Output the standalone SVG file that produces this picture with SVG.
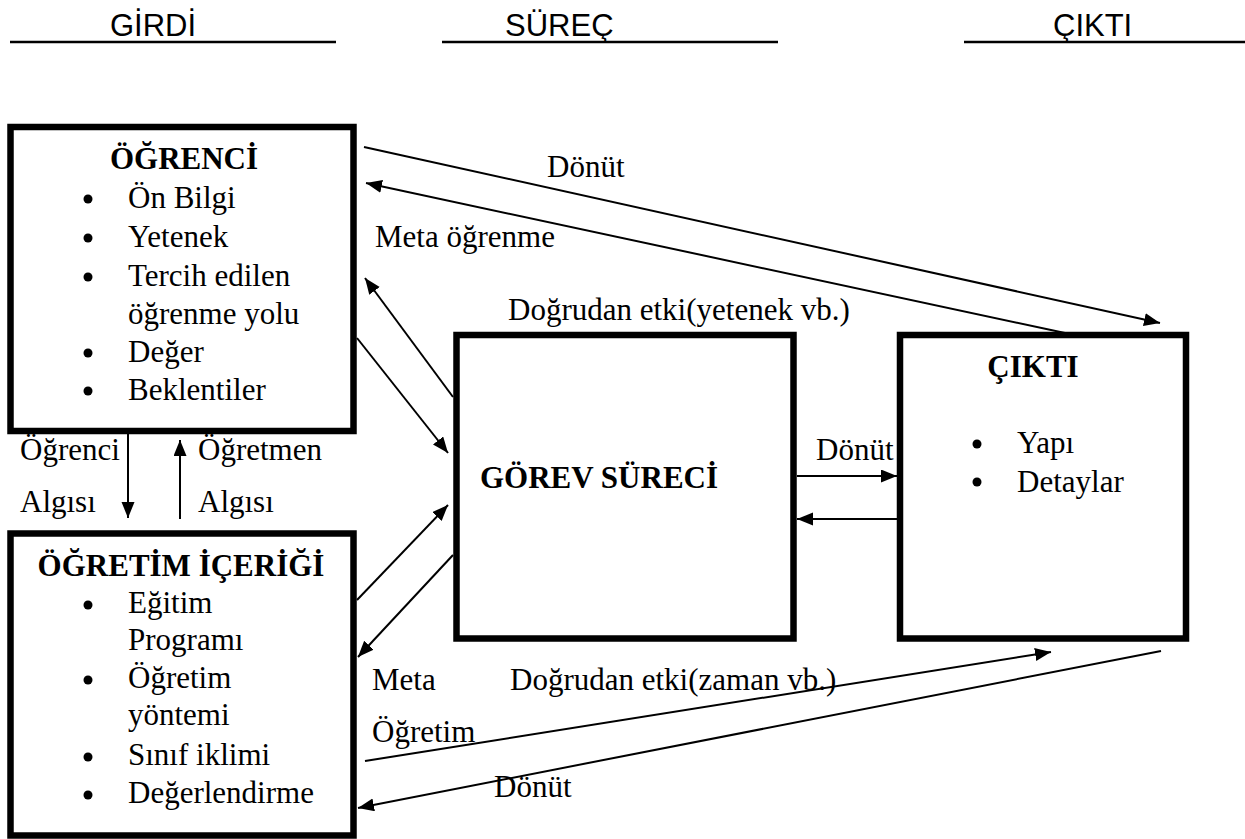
<svg xmlns="http://www.w3.org/2000/svg" width="1245" height="839" viewBox="0 0 1245 839">
<style>
.hdr{font-family:"Liberation Sans",Arial,sans-serif;font-size:31px;fill:#000}
.t{font-family:"Liberation Serif","Times New Roman",serif;font-size:31px;fill:#000}
.b{font-family:"Liberation Serif","Times New Roman",serif;font-size:31px;font-weight:bold;fill:#000}
.box{fill:#fff;stroke:#000;stroke-width:6.5}
.ln{stroke:#000;stroke-width:2;fill:none}
.ar{stroke:#000;stroke-width:2;fill:none;marker-end:url(#ah)}
.ul{stroke:#000;stroke-width:2.5}
</style>
<defs>
<marker id="ah" markerUnits="userSpaceOnUse" markerWidth="18" markerHeight="14" refX="16" refY="6.5" orient="auto">
<path d="M0,0 L16,6.5 L0,13 z" fill="#000"/>
</marker>
</defs>
<rect width="1245" height="839" fill="#fff"/>
<g id="headers">
<text class="hdr" x="110" y="36">GİRDİ</text>
<line class="ul" x1="10" y1="42" x2="336" y2="42"/>
<text class="hdr" x="505" y="36">SÜREÇ</text>
<line class="ul" x1="442" y1="42" x2="778" y2="42"/>
<text class="hdr" x="1053" y="36">ÇIKTI</text>
<line class="ul" x1="964" y1="42" x2="1245" y2="42"/>
</g>
<g id="ogrenci">
<rect class="box" x="10.5" y="127" width="343" height="304"/>
<text class="b" x="184" y="169" text-anchor="middle">ÖĞRENCİ</text>
<circle cx="88" cy="199" r="4.5"/><text class="t" x="128" y="208">Ön Bilgi</text>
<circle cx="88" cy="238" r="4.5"/><text class="t" x="128" y="247">Yetenek</text>
<circle cx="88" cy="277" r="4.5"/><text class="t" x="128" y="286">Tercih edilen</text>
<text class="t" x="128" y="324">öğrenme yolu</text>
<circle cx="88" cy="353" r="4.5"/><text class="t" x="128" y="362">Değer</text>
<circle cx="88" cy="391" r="4.5"/><text class="t" x="128" y="400">Beklentiler</text>
</g>
<g id="ogretim">
<rect class="box" x="10.5" y="533.5" width="343" height="302"/>
<text class="b" x="181" y="576" text-anchor="middle">ÖĞRETİM İÇERİĞİ</text>
<circle cx="88" cy="605" r="4.5"/><text class="t" x="128" y="613">Eğitim</text>
<text class="t" x="128" y="650">Programı</text>
<circle cx="88" cy="680" r="4.5"/><text class="t" x="128" y="688">Öğretim</text>
<text class="t" x="128" y="725">yöntemi</text>
<circle cx="88" cy="757" r="4.5"/><text class="t" x="128" y="765">Sınıf iklimi</text>
<circle cx="88" cy="795" r="4.5"/><text class="t" x="128" y="803">Değerlendirme</text>
</g>
<g id="gorev">
<rect class="box" x="456.5" y="335" width="337" height="303.5"/>
<text class="b" x="480" y="488">GÖREV SÜRECİ</text>
</g>
<g id="cikti">
<rect class="box" x="900" y="335" width="286" height="303.5"/>
<text class="b" x="1033" y="377" text-anchor="middle">ÇIKTI</text>
<circle cx="977" cy="444" r="4.5"/><text class="t" x="1017" y="453">Yapı</text>
<circle cx="977" cy="482" r="4.5"/><text class="t" x="1017" y="492">Detaylar</text>
</g>
<g id="connectors">
<line class="ar" x1="364" y1="147" x2="1160" y2="323"/>
<line class="ar" x1="1065" y1="333" x2="366" y2="183"/>
<line class="ar" x1="453" y1="397" x2="365" y2="278"/>
<line class="ar" x1="357" y1="338" x2="448" y2="453"/>
<line class="ar" x1="357" y1="600" x2="448" y2="505"/>
<line class="ar" x1="453" y1="555" x2="358" y2="657"/>
<line class="ar" x1="797" y1="476" x2="897" y2="476"/>
<line class="ar" x1="897" y1="519" x2="797" y2="519"/>
<line class="ar" x1="128" y1="434" x2="128" y2="518"/>
<line class="ar" x1="180" y1="519" x2="180" y2="440"/>
<line class="ar" x1="365" y1="761" x2="1051" y2="652"/>
<line class="ar" x1="1161" y1="651" x2="358" y2="808"/>
</g>
<g id="labels">
<text class="t" x="547" y="177">Dönüt</text>
<text class="t" x="375" y="247">Meta öğrenme</text>
<text class="t" x="508" y="320">Doğrudan etki(yetenek vb.)</text>
<text class="t" x="816" y="460">Dönüt</text>
<text class="t" x="20" y="460">Öğrenci</text>
<text class="t" x="20" y="512">Algısı</text>
<text class="t" x="198" y="460">Öğretmen</text>
<text class="t" x="198" y="512">Algısı</text>
<text class="t" x="372" y="690">Meta</text>
<text class="t" x="510" y="690">Doğrudan etki(zaman vb.)</text>
<text class="t" x="372" y="742">Öğretim</text>
<text class="t" x="494" y="797">Dönüt</text>
</g>
</svg>
